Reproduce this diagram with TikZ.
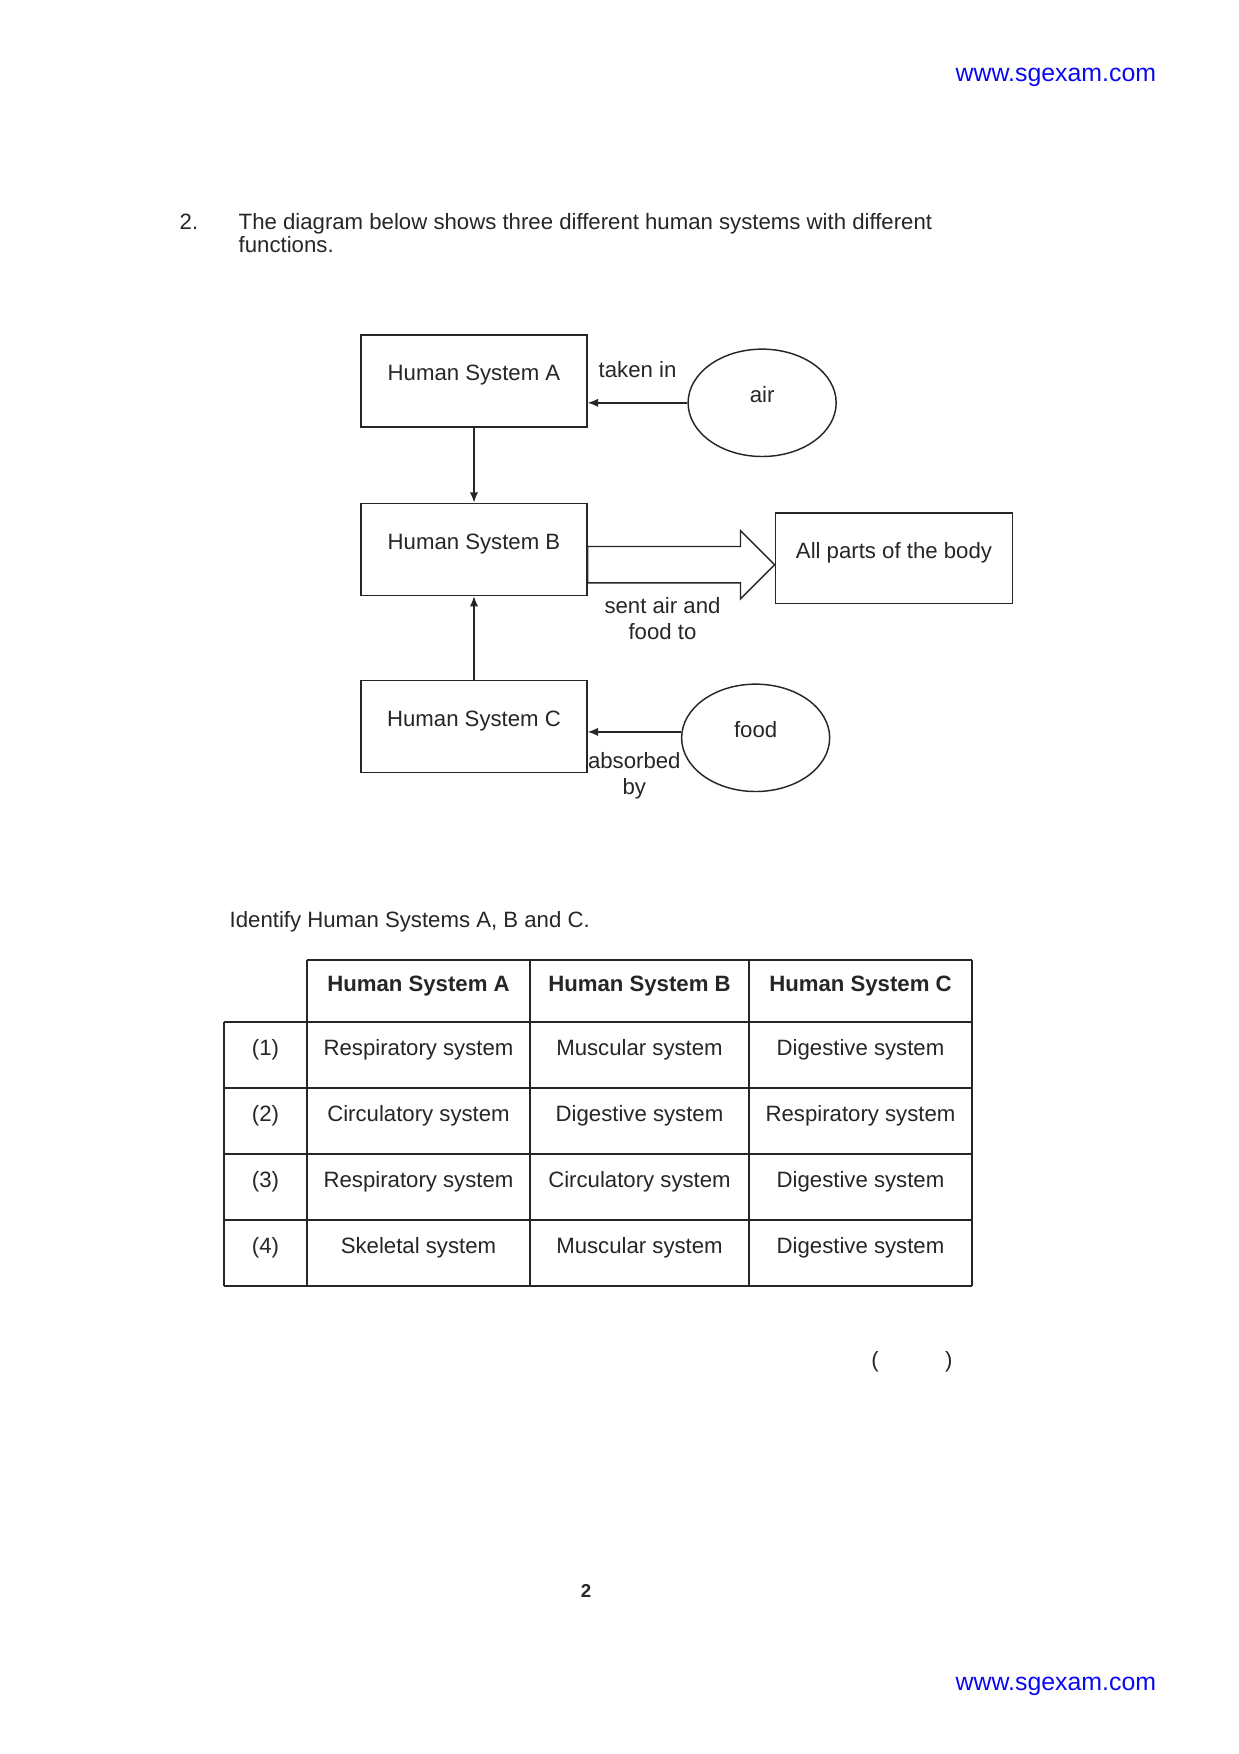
\documentclass[tikz,border=0pt]{standalone}
\usepackage{fontspec}
\setmainfont{Liberation Sans}
\usetikzlibrary{positioning,shapes.geometric,shapes.arrows,arrows.meta,calc}
\definecolor{ink}{gray}{0.15}
\definecolor{sgblue}{RGB}{10,10,240}

\begin{document}
\begin{tikzpicture}[x=0.016949cm, y=-0.016949cm, color=ink, line width=0.7pt,
    font=\fontsize{10.7}{12.5}\selectfont, >={Latex[length=5pt,width=4pt]},
    sysbox/.style={draw, minimum width=3.83cm, minimum height=1.56cm, text height=3mm, text depth=3mm},
    blob/.style={ellipse, draw, minimum width=2.51cm, minimum height=1.82cm, text height=3mm, text depth=3mm},
    flowarrow/.style={single arrow, draw, minimum height=3.17cm, inner xsep=0pt, inner ysep=0.297cm,
      single arrow head extend=0.27cm, outer sep=0pt, anchor=tail},
    note/.style={align=center, inner sep=0pt},
    cell/.style={text height=3mm, text depth=3mm, inner sep=0pt},
    web/.style={text=sgblue, font=\fontsize{12}{14}\selectfont, anchor=base west}]
  \fill[white] (0,0) rectangle (1239,1754);
  \useasboundingbox (0,0) rectangle (1239,1754);

  \node[web] (webtop) at (948,82) {www.sgexam.com};
  \node[web] (webbot) at (948,1690) {www.sgexam.com};

  \node[anchor=base west, inner sep=0pt] (qnum) at (179,230) {2.};
  \node[anchor=base west, inner sep=0pt] (qline1) at (238,230) {The diagram below shows three different human systems with different};
  \node[anchor=base west, inner sep=0pt] (qline2) at (238,253) {functions.};

  \node[sysbox] (A) at (474,381) {Human System A};
  \node[sysbox] (B) [below=1.27cm of A] {Human System B};
  \node[sysbox] (C) [below=1.42cm of B] {Human System C};
  \node[blob] (air) [right=1.69cm of A, yshift=-0.37cm] {air};
  \node[blob] (food) [right=1.58cm of C, yshift=-0.19cm] {food};
  \node[sysbox, minimum width=4.02cm, minimum height=1.53cm] (body) [right=3.17cm of B, yshift=-0.15cm] {All parts of the body};
  \node[flowarrow] (flow) at ([yshift=-0.26cm]B.east) {};
  \node[note, below=0.55cm] (sentlbl) at ($(flow.tail)!0.4!(flow.tip)$) {sent air and\\food to};
  \coordinate (foodin) at ([yshift=0.1cm]food.west);

  \path[->]
    (air.west) edge node[note, above=0.42cm] {taken in} (A.east |- air.west)
    (A) edge (B)
    (C) edge (B)
    (foodin) edge node[note, below=0.34cm] {absorbed\\by} (C.east |- foodin);

  \node[anchor=base west, inner sep=0pt] (ask) at (229,927) {Identify Human Systems A, B and C.};

  \draw (307,960) -- (972,960);
  \foreach \y in {1022,1088,1154,1220,1286}
    \draw (224,\y) -- (972,\y);
  \draw (224,1022) -- (224,1286);
  \foreach \x in {307,530,749,972}
    \draw (\x,960) -- (\x,1286);

  \foreach \x/\t in {418.5/A, 639.5/B, 860.5/C}
    \node[cell] (head\t) at (\x,991) {\bfseries Human System \t};
  \foreach \n/\a/\b/\c in {1/Respiratory system/Muscular system/Digestive system,
      2/Circulatory system/Digestive system/Respiratory system,
      3/Respiratory system/Circulatory system/Digestive system,
      4/Skeletal system/Muscular system/Digestive system}
  {
    \node[cell] (lab\n) at (265.5,{989+66*\n}) {(\n)};
    \node[cell] (ca\n) at (418.5,{989+66*\n}) {\a};
    \node[cell] (cb\n) at (639.5,{989+66*\n}) {\b};
    \node[cell] (cc\n) at (860.5,{989+66*\n}) {\c};
  }

  \node[anchor=base, inner sep=0pt] (answer) at (912,1367) {(\hspace{32pt})};
  \node[anchor=base, inner sep=0pt, font=\fontsize{9}{11}\selectfont\bfseries] (page) at (586,1597) {2};
\end{tikzpicture}
\end{document}
